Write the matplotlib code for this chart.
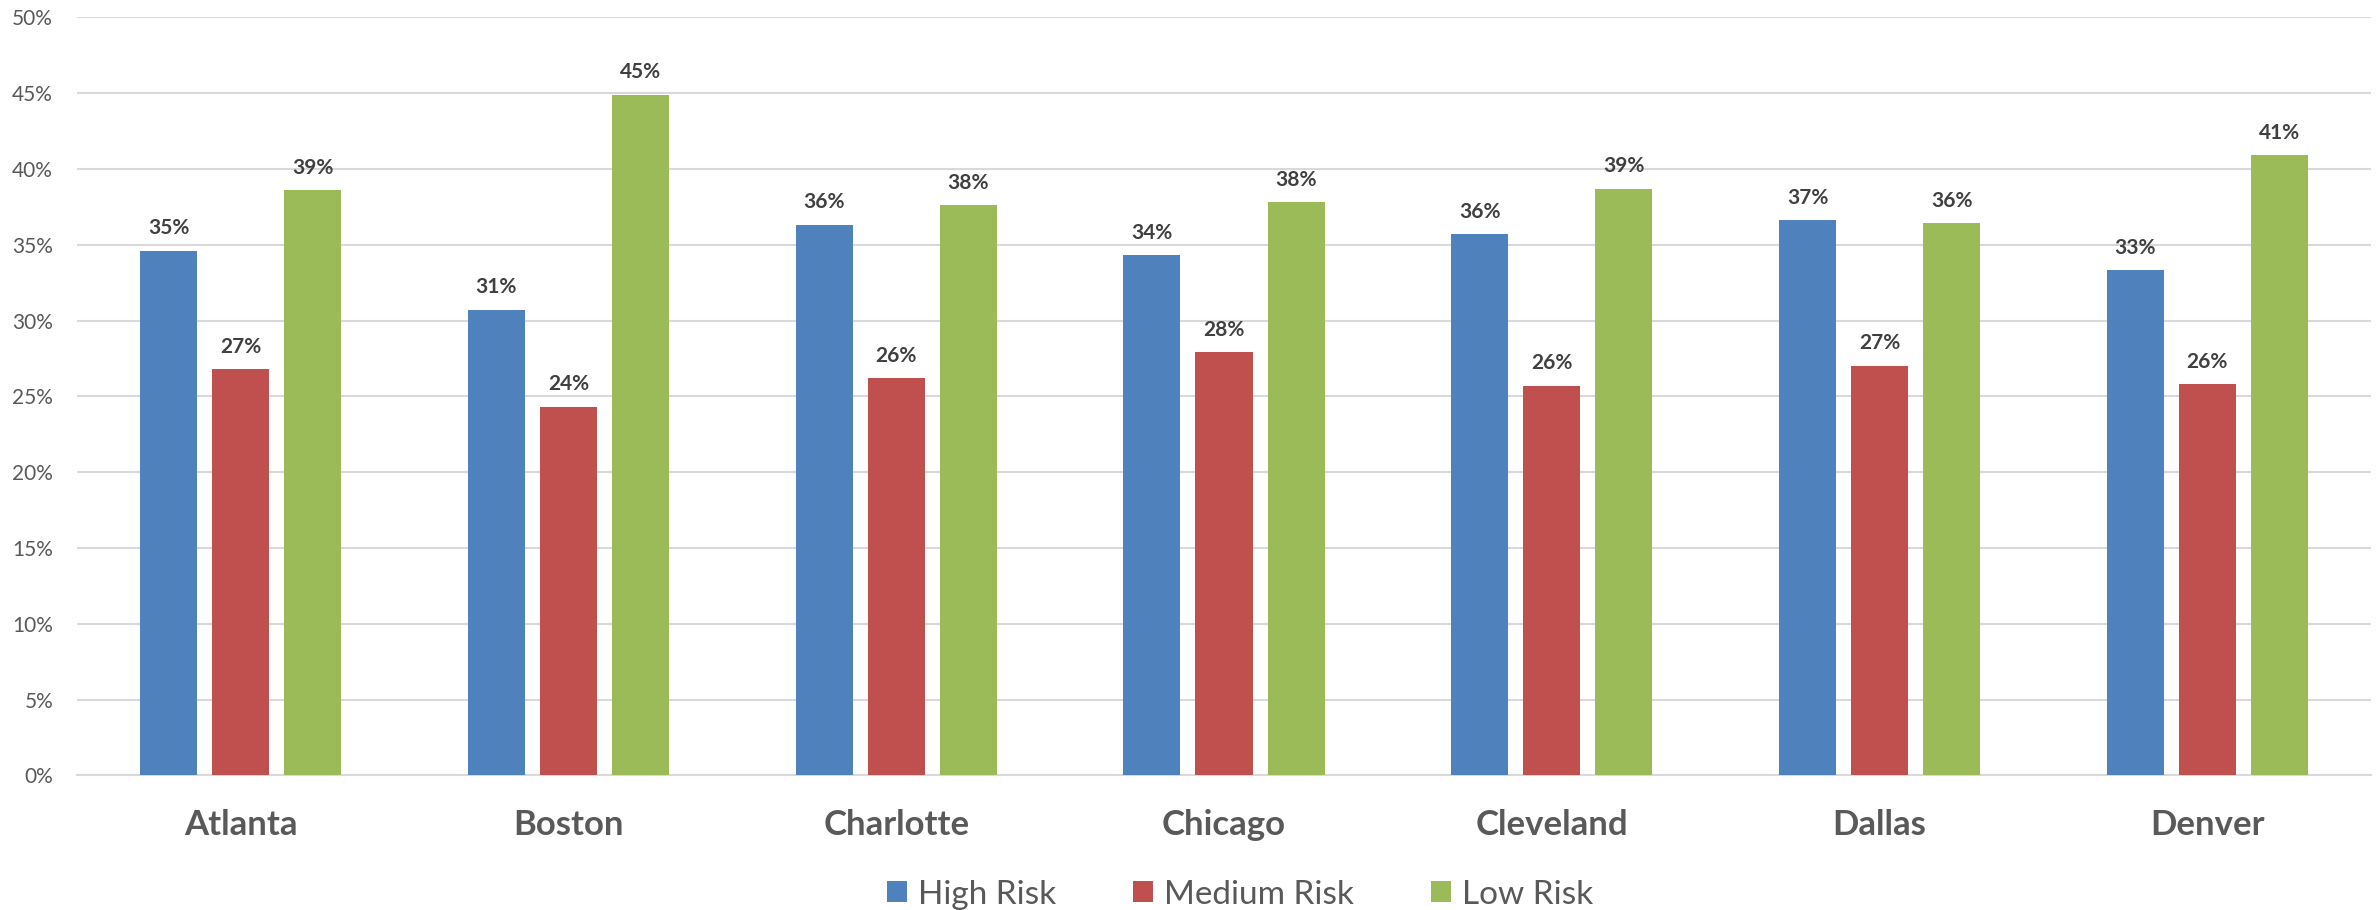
import matplotlib
matplotlib.use("Agg")
import matplotlib.pyplot as plt
import numpy as np
from matplotlib.ticker import FuncFormatter, MultipleLocator

cities = ["Atlanta", "Boston", "Charlotte", "Chicago", "Cleveland", "Dallas", "Denver"]
series_names = ["High Risk", "Medium Risk", "Low Risk"]
high_risk = [34.6, 30.7, 36.3, 34.3, 35.7, 36.6, 33.3]
medium_risk = [26.8, 24.3, 26.2, 27.9, 25.7, 27.0, 25.8]
low_risk = [38.6, 44.9, 37.6, 37.8, 38.7, 36.4, 40.9]
colors = ["#4F81BD", "#C0504D", "#9BBB59"]

plt.rcParams['font.family'] = ['Lato', 'DejaVu Sans']

fig = plt.figure(figsize=(23.76, 9.10), dpi=100)
ax = fig.add_axes([0.0323, 0.148, 0.9657, 0.833])

x = np.arange(len(cities))
width = 0.174
step = 0.22
for i, (vals, name, c) in enumerate(zip([high_risk, medium_risk, low_risk], series_names, colors)):
    pos = x + (i - 1) * step
    bars = ax.bar(pos, vals, width, color=c, label=name, zorder=3)
    for b, v in zip(bars, vals):
        ax.annotate(f"{v:.0f}%", (b.get_x() + b.get_width() / 2, v),
                    xytext=(0, 9), textcoords="offset points",
                    ha="center", va="bottom", fontsize=15, fontweight="bold",
                    color="#404040")

ax.set_xlim(-0.5, len(cities) - 0.5)
ax.set_ylim(0, 50)
ax.yaxis.set_major_locator(MultipleLocator(5))
ax.yaxis.set_major_formatter(FuncFormatter(lambda v, p: f"{v:.0f}%"))
ax.grid(axis="y", color="#D9D9D9", linewidth=1.5, zorder=0)
ax.set_xticks(x)
ax.set_xticklabels(cities, fontsize=25, fontweight="bold", color="#595959")
ax.tick_params(axis="x", length=0, pad=24)
ax.tick_params(axis="y", length=0, pad=17, labelsize=15, labelcolor="#595959")
for s in ["top", "right", "left"]:
    ax.spines[s].set_visible(False)
ax.spines["bottom"].set_color("#D9D9D9")
ax.spines["bottom"].set_linewidth(1.5)

fig.legend(loc="center", bbox_to_anchor=(0.5219, 0.017), ncol=3, frameon=False,
           fontsize=24, handlelength=0.6, handleheight=0.6, columnspacing=2.3,
           handletextpad=0.33, labelcolor="#595959", borderpad=0.0)

fig.savefig("out.png", dpi=100)
